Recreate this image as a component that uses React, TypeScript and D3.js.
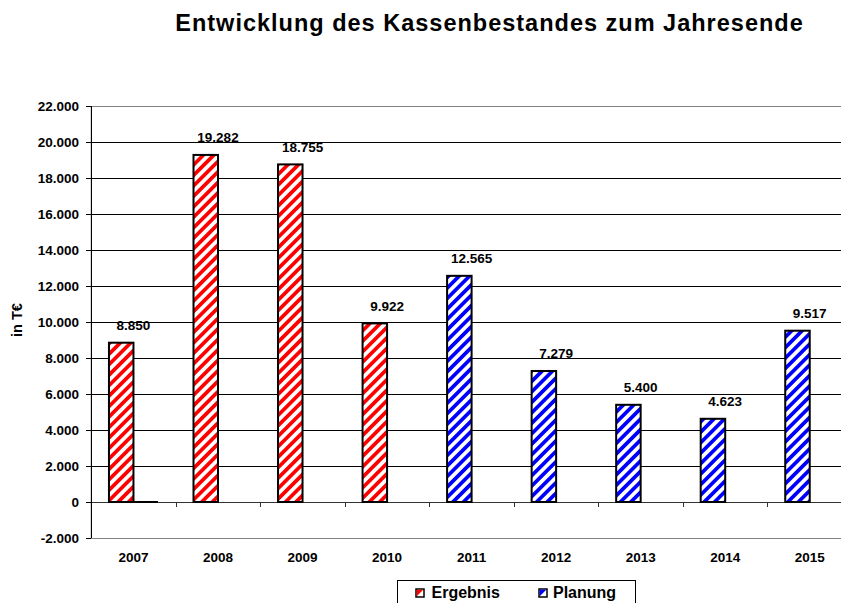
import React from "react";
import * as d3 from "d3";

const years = ["2007", "2008", "2009", "2010", "2011", "2012", "2013", "2014", "2015"];
const values = [8850, 19282, 18755, 9922, 12565, 7279, 5400, 4623, 9517];
const seriesOf = ["Ergebnis", "Ergebnis", "Ergebnis", "Ergebnis", "Planung", "Planung", "Planung", "Planung", "Planung"];
const planungZeroYears = ["2007"];
const yTicks = [-2000, 0, 2000, 4000, 6000, 8000, 10000, 12000, 14000, 16000, 18000, 20000, 22000];
const legendItems = ["Ergebnis", "Planung"];
const title = "Entwicklung des Kassenbestandes zum Jahresende";
const yLabel = "in T€";

const W = 841;
const H = 603;
const plotLeft = 91.2;
const plotRight = 852;
const plotTop = 106;
const plotBottom = 538;
const FONT = "'Liberation Sans', Arial, sans-serif";

const fmt = (v: number) => d3.format(",")(v).replace(/,/g, ".").replace("−", "-");

export default function App() {
  const x = d3.scaleBand<string>().domain(years).range([plotLeft, plotRight]).paddingInner(0).paddingOuter(0);
  const y = d3.scaleLinear().domain([-2000, 22000]).range([plotBottom, plotTop]);
  const barW = 24.5;
  const y0 = y(0);
  const colorOf = (s: string) => (s === "Ergebnis" ? "#ff0000" : "#0000ff");
  const patId = (s: string) => (s === "Ergebnis" ? "patRed" : "patBlue");

  return (
    <svg width={W} height={H} style={{ position: "absolute", left: 0, top: 0, overflow: "hidden", background: "#fff" }}>
      <defs>
        {legendItems.map((s) => (
          <pattern key={s} id={patId(s)} patternUnits="userSpaceOnUse" width={7.4} height={7.4} patternTransform="rotate(45)">
            <rect x={0} y={0} width={7.4} height={7.4} fill="#fff" />
            <rect x={0} y={0} width={3.7} height={7.4} fill={colorOf(s)} />
          </pattern>
        ))}
      </defs>
      <rect x={0} y={0} width={W} height={H} fill="#fff" />
      <text x={489.5} y={31} textAnchor="middle" fontFamily={FONT} fontWeight="bold" fontSize={23.5} letterSpacing={1}>
        {title}
      </text>

      {/* gridlines */}
      {yTicks.filter((t) => t > 0 && t < 22000).map((t) => (
        <line key={t} x1={plotLeft} x2={plotRight} y1={Math.round(y(t)) + 0.5} y2={Math.round(y(t)) + 0.5} stroke="#000" strokeWidth={1} />
      ))}
      {/* plot border */}
      <rect x={plotLeft} y={plotTop + 0.5} width={plotRight - plotLeft} height={plotBottom - plotTop} fill="none" stroke="#808080" strokeWidth={1} />

      {/* x axis at 0 */}
      <line x1={plotLeft} x2={plotRight} y1={Math.round(y0) + 0.5} y2={Math.round(y0) + 0.5} stroke="#333" />
      {years.slice(1).map((yr) => (
        <line key={yr} x1={Math.round(x(yr)!) + 0.5} x2={Math.round(x(yr)!) + 0.5} y1={Math.round(y0)} y2={Math.round(y0) + 5} stroke="#333" />
      ))}

      {/* y axis */}
      <line x1={Math.round(plotLeft) + 0.5} x2={Math.round(plotLeft) + 0.5} y1={plotTop} y2={plotBottom} stroke="#000" />
      {yTicks.map((t) => (
        <g key={t}>
          <line x1={Math.round(plotLeft) - 5} x2={Math.round(plotLeft)} y1={Math.round(y(t)) + 0.5} y2={Math.round(y(t)) + 0.5} stroke="#000" />
          <text x={79} y={y(t) + 4.5} textAnchor="end" fontFamily={FONT} fontWeight="bold" fontSize={13.5}>
            {fmt(t)}
          </text>
        </g>
      ))}
      <text transform={`translate(22,320) rotate(-90)`} textAnchor="middle" fontFamily={FONT} fontWeight="bold" fontSize={14.5}>
        {yLabel}
      </text>

      {/* bars */}
      {years.map((yr, i) => {
        const cx = x(yr)! + x.bandwidth() / 2;
        const v = values[i];
        const top = y(v);
        return (
          <g key={yr}>
            <rect x={cx - barW} y={top} width={barW} height={y0 - top} fill={`url(#${patId(seriesOf[i])})`} stroke="#000" strokeWidth={2} />
            <text x={cx} y={top - 12.5} textAnchor="middle" fontFamily={FONT} fontWeight="bold" fontSize={13.5}>
              {fmt(v)}
            </text>
          </g>
        );
      })}
      {planungZeroYears.map((yr) => {
        const cx = x(yr)! + x.bandwidth() / 2;
        return <line key={yr} x1={cx} x2={cx + barW} y1={y0} y2={y0} stroke="#000" strokeWidth={2} />;
      })}

      {/* category labels */}
      {years.map((yr) => (
        <text key={yr} x={x(yr)! + x.bandwidth() / 2} y={562} textAnchor="middle" fontFamily={FONT} fontWeight="bold" fontSize={13.5}>
          {yr}
        </text>
      ))}

      {/* legend */}
      <rect x={397.5} y={580.5} width={238} height={30} fill="#fff" stroke="#000" strokeWidth={1} />
      {legendItems.map((s, i) => {
        const sx = i === 0 ? 416 : 539;
        const tx = i === 0 ? 431.5 : 553;
        return (
          <g key={s}>
            <rect x={sx} y={589} width={8} height={8} fill="#fff" stroke="#000" strokeWidth={1.5} />
            <path d={`M${sx + 0.75},${589.75} L${sx + 0.75},${596.25} L${sx + 7.25},${589.75} Z`} fill={colorOf(s)} />
            <text x={tx} y={598} fontFamily={FONT} fontWeight="bold" fontSize={16}>
              {s}
            </text>
          </g>
        );
      })}
    </svg>
  );
}
